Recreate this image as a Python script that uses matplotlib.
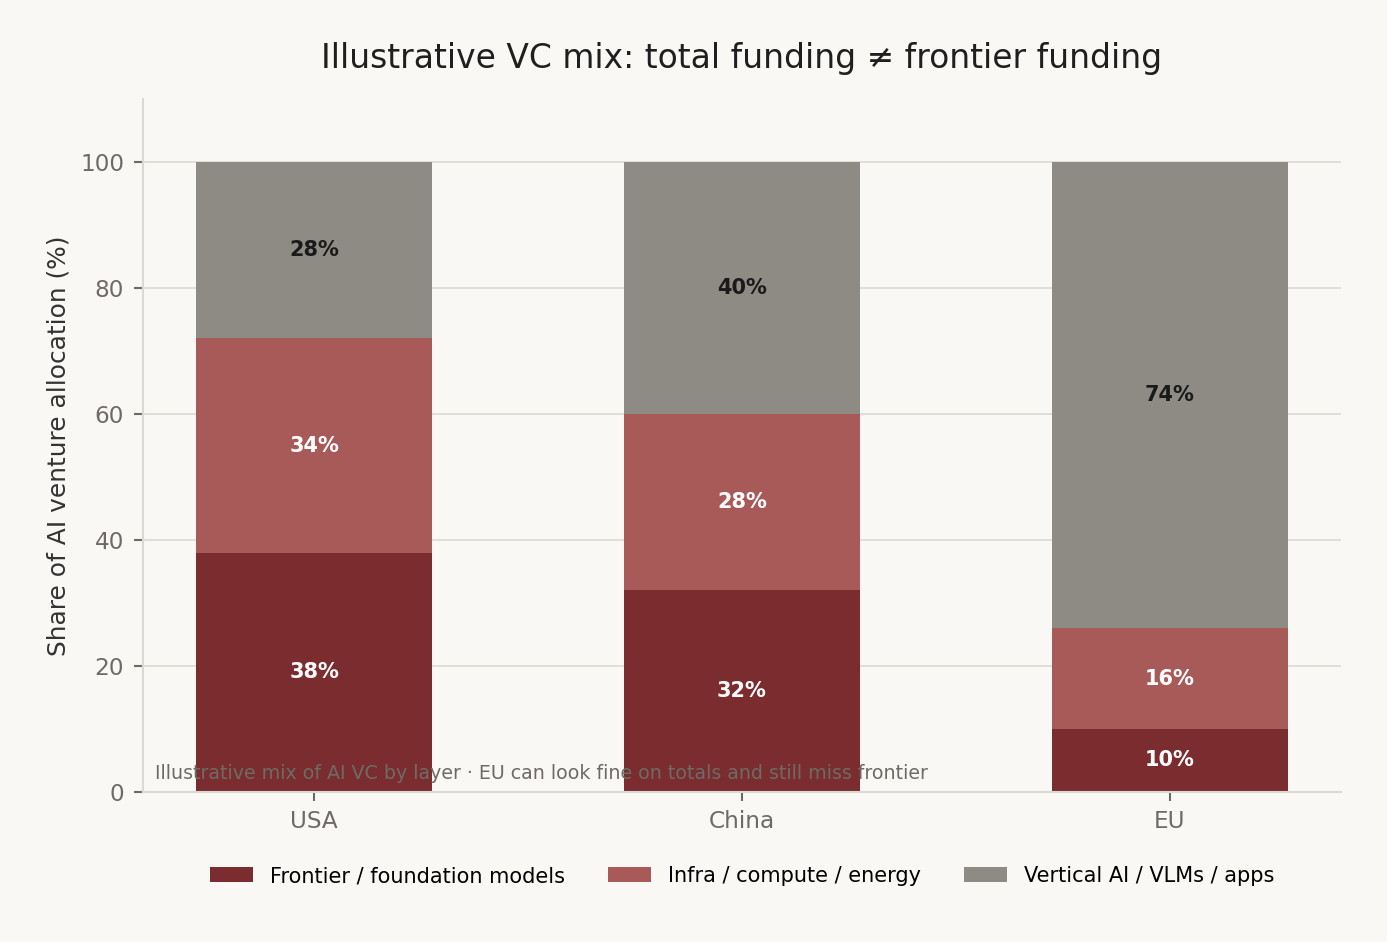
import matplotlib
matplotlib.use("Agg")
import matplotlib.pyplot as plt
import numpy as np

regions = ["USA", "China", "EU"]
series_names = ["Frontier / foundation models", "Infra / compute / energy", "Vertical AI / VLMs / apps"]
frontier = [38, 32, 10]
infra = [34, 28, 16]
vertical = [28, 40, 74]
colors = ["#7a2c2e", "#a75a58", "#8e8b84"]
label_colors = ["white", "white", "#1a1a1a"]

bg = "#f9f8f5"
fig = plt.figure(figsize=(13.87, 9.42), dpi=100, facecolor=bg)
ax = fig.add_axes([143/1387, 1-792/942, (1341-143)/1387, (792-99)/942], facecolor=bg)

x = np.arange(len(regions))
bottom = np.zeros(len(regions))
for vals, c, lc, name in zip([frontier, infra, vertical], colors, label_colors, series_names):
    vals = np.array(vals, dtype=float)
    ax.bar(x, vals, 0.55, bottom=bottom, color=c, label=name, zorder=2)
    for xi, b, v in zip(x, bottom, vals):
        ax.text(xi, b + v/2, f"{int(v)}%", ha="center", va="center", color=lc,
                fontsize=15, fontweight="bold", zorder=3)
    bottom += vals

ax.set_xlim(-0.4, 2.4)
ax.set_ylim(0, 110)
ax.set_yticks([0, 20, 40, 60, 80, 100])
ax.set_xticks(x)
ax.set_xticklabels(regions)
ax.grid(axis="y", color="#dcd9d4", linewidth=1.2, zorder=0)
ax.set_axisbelow(True)
for s in ["top", "right"]:
    ax.spines[s].set_visible(False)
for s in ["left", "bottom"]:
    ax.spines[s].set_color("#dcd9d4")
    ax.spines[s].set_linewidth(1.5)
ax.tick_params(axis="both", colors="#6e6b66", labelsize=16.7, length=6.5, width=1.5, pad=7)
ax.tick_params(axis="x", pad=6.5)
ax.set_ylabel("Share of AI venture allocation (%)", fontsize=17.9, color="#333333", labelpad=7)
ax.set_title("Illustrative VC mix: total funding \u2260 frontier funding", fontsize=23.7, color="#1f1f1f", pad=22)

ax.text(0.01, 0.027, "Illustrative mix of AI VC by layer \u00b7 EU can look fine on totals and still miss frontier",
        transform=ax.transAxes, fontsize=13.7, color="#6e6b66", ha="left", va="center", zorder=4)

fig.legend(loc="center", bbox_to_anchor=(742/1387, 1-876/942), ncol=3, frameon=False,
           fontsize=15, handlelength=2.07, handleheight=0.7, columnspacing=2.07, handletextpad=0.8)

fig.savefig("out.png", dpi=100, facecolor=bg)
